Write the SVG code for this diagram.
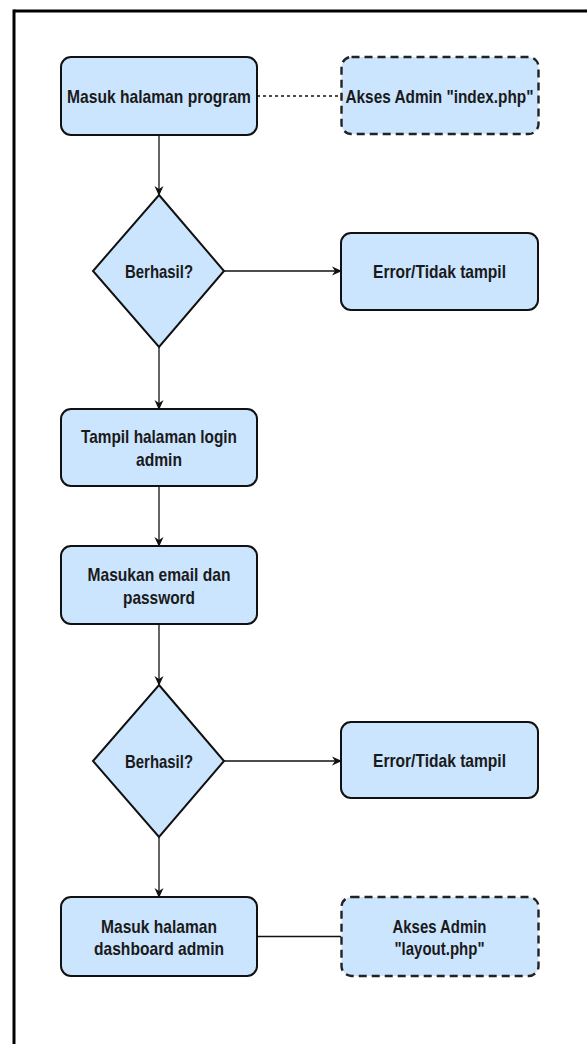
<svg xmlns="http://www.w3.org/2000/svg" width="587" height="1044" viewBox="0 0 587 1044">
<style>
.box{fill:#cce5ff;stroke:#111;stroke-width:2}
.dash{fill:#cce5ff;stroke:#222;stroke-width:2.4;stroke-dasharray:8 5}
.lbl{font-family:"Liberation Sans Narrow","Liberation Sans",Arial,sans-serif;font-weight:bold;font-size:18.5px;fill:#1a1a1a;text-anchor:middle}
.edge{fill:none;stroke:#111;stroke-width:1.3}
.dot{fill:none;stroke:#111;stroke-width:1.3;stroke-dasharray:3 3}
.frame{stroke:#000;stroke-width:3;fill:none}
</style>
<defs>
<marker id="arr" viewBox="0 0 10 10" refX="9" refY="5" markerWidth="10" markerHeight="10" markerUnits="userSpaceOnUse" orient="auto">
<path d="M0,0.5 L10,5 L0,9.5 L3,5 Z" fill="#111"/>
</marker>
</defs>
<rect width="587" height="1044" fill="#fff"/>
<g id="frame">
<line class="frame" x1="14" y1="11" x2="587" y2="11"/>
<line class="frame" x1="14" y1="9.5" x2="14" y2="1044"/>
</g>
<g id="connectors">
<line class="dot" x1="257" y1="96" x2="341" y2="96"/>
<line class="edge" x1="159" y1="135" x2="159" y2="195" marker-end="url(#arr)"/>
<line class="edge" x1="224" y1="271" x2="341" y2="271" marker-end="url(#arr)"/>
<line class="edge" x1="159" y1="347" x2="159" y2="409" marker-end="url(#arr)"/>
<line class="edge" x1="159" y1="486" x2="159" y2="546" marker-end="url(#arr)"/>
<line class="edge" x1="159" y1="624" x2="159" y2="685" marker-end="url(#arr)"/>
<line class="edge" x1="224" y1="761" x2="341" y2="761" marker-end="url(#arr)"/>
<line class="edge" x1="159" y1="837" x2="159" y2="897" marker-end="url(#arr)"/>
<line class="edge" x1="257" y1="936.5" x2="341" y2="936.5"/>
</g>
<g id="n1">
<rect class="box" x="61" y="57" width="196" height="78" rx="10"/>
<text class="lbl" x="159" y="102.5" textLength="184" lengthAdjust="spacingAndGlyphs">Masuk halaman program</text>
</g>
<g id="n2">
<rect class="dash" x="341.5" y="57" width="197" height="77" rx="10"/>
<text class="lbl" x="439.5" y="102.5" textLength="188" lengthAdjust="spacingAndGlyphs">Akses Admin "index.php"</text>
</g>
<g id="d1">
<polygon class="box" points="159,195 224,271 159,347 93,271"/>
<text class="lbl" x="159" y="277.5" textLength="68" lengthAdjust="spacingAndGlyphs">Berhasil?</text>
</g>
<g id="e1">
<rect class="box" x="341" y="233" width="197" height="77" rx="10"/>
<text class="lbl" x="439.5" y="277.5" textLength="133" lengthAdjust="spacingAndGlyphs">Error/Tidak tampil</text>
</g>
<g id="n3">
<rect class="box" x="61" y="409" width="196" height="77" rx="10"/>
<text class="lbl" x="159" y="443" textLength="156" lengthAdjust="spacingAndGlyphs">Tampil halaman login</text>
<text class="lbl" x="159" y="466" textLength="46" lengthAdjust="spacingAndGlyphs">admin</text>
</g>
<g id="n4">
<rect class="box" x="61" y="546" width="196" height="78" rx="10"/>
<text class="lbl" x="159" y="580.5" textLength="143" lengthAdjust="spacingAndGlyphs">Masukan email dan</text>
<text class="lbl" x="159" y="603.5" textLength="72" lengthAdjust="spacingAndGlyphs">password</text>
</g>
<g id="d2">
<polygon class="box" points="159,685 224,761 159,837 93,761"/>
<text class="lbl" x="159" y="767.5" textLength="68" lengthAdjust="spacingAndGlyphs">Berhasil?</text>
</g>
<g id="e2">
<rect class="box" x="341" y="722" width="197" height="76" rx="10"/>
<text class="lbl" x="439.5" y="766.5" textLength="133" lengthAdjust="spacingAndGlyphs">Error/Tidak tampil</text>
</g>
<g id="n5">
<rect class="box" x="61" y="897" width="196" height="79" rx="10"/>
<text class="lbl" x="159" y="932.5" textLength="116" lengthAdjust="spacingAndGlyphs">Masuk halaman</text>
<text class="lbl" x="159" y="955" textLength="130" lengthAdjust="spacingAndGlyphs">dashboard admin</text>
</g>
<g id="n6">
<rect class="dash" x="341.5" y="897" width="197" height="79" rx="10"/>
<text class="lbl" x="439.5" y="932.5" textLength="94" lengthAdjust="spacingAndGlyphs">Akses Admin</text>
<text class="lbl" x="439.5" y="955" textLength="90" lengthAdjust="spacingAndGlyphs">"layout.php"</text>
</g>
</svg>
